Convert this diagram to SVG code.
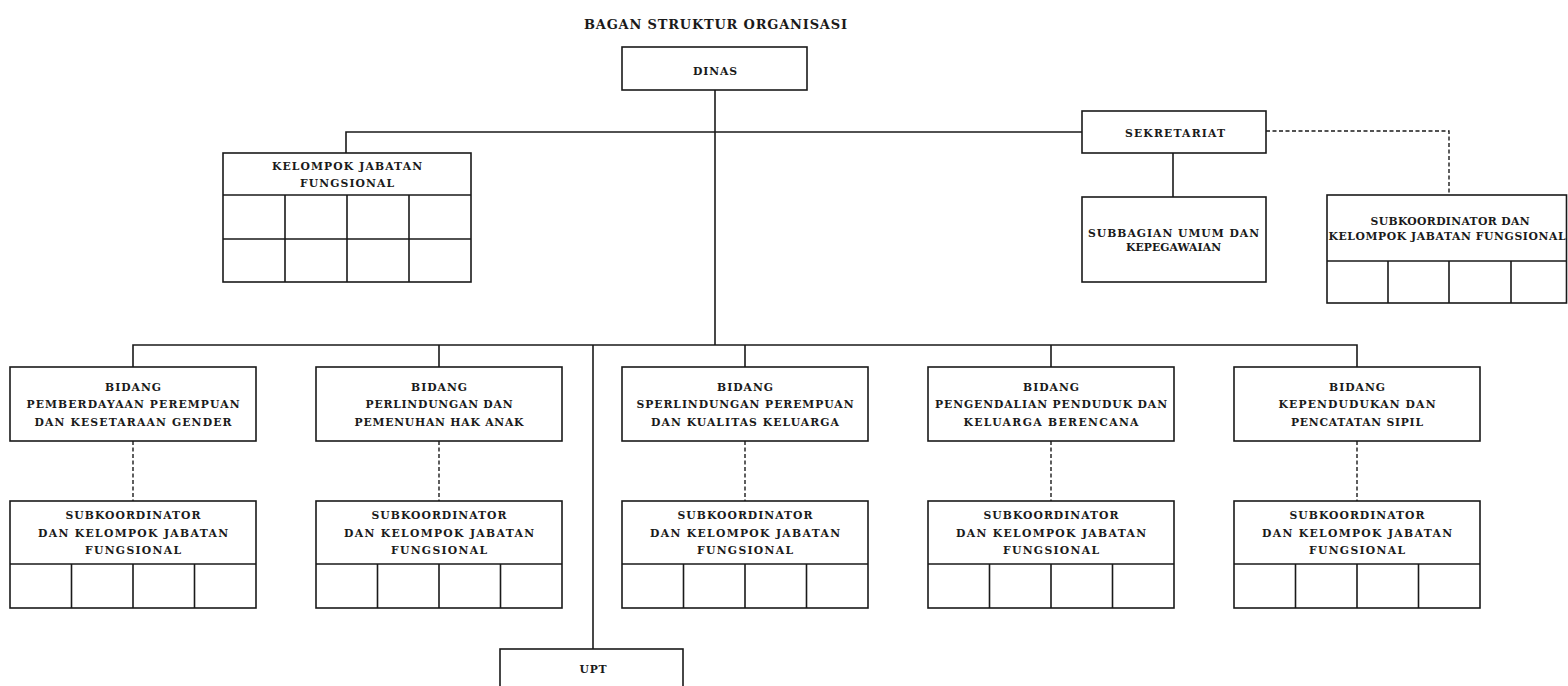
<svg xmlns="http://www.w3.org/2000/svg" width="1568" height="686" viewBox="0 0 1568 686">
<style>
.bx{fill:#fff;stroke:#1a1a1a;stroke-width:1.6}
.ln{fill:none;stroke:#1a1a1a;stroke-width:1.6}
.ds{fill:none;stroke:#1a1a1a;stroke-width:1.4;stroke-dasharray:4 2.5}
.t{font-family:"DejaVu Serif","Liberation Serif",serif;font-weight:bold;font-size:10.8px;fill:#1a1a1a;text-anchor:middle}
.tt{font-family:"DejaVu Serif","Liberation Serif",serif;font-weight:bold;font-size:13px;fill:#1a1a1a;text-anchor:middle}
</style>
<rect width="1568" height="686" fill="#fff"/>
<text class="tt" x="715.5" y="28.5" textLength="263">BAGAN STRUKTUR ORGANISASI</text>

<g id="connectors">
<path class="ln" d="M715 90V345"/>
<path class="ln" d="M346 153V132H1082"/>
<path class="ln" d="M1173 153V197"/>
<path class="ds" d="M1266 131H1449V195"/>
<path class="ln" d="M133 367V345H1357V367"/>
<path class="ln" d="M439 345V367M745 345V367M1051 345V367"/>
<path class="ln" d="M593 345V649"/>
<path class="ds" d="M133 441V501M439 441V501M745 441V501M1051 441V501M1357 441V501"/>
</g>

<g id="dinas">
<rect class="bx" x="622" y="47" width="185" height="43"/>
<text class="t" x="715" y="74.5" textLength="44">DINAS</text>
</g>

<g id="kelompok-jabatan-fungsional">
<rect class="bx" x="223" y="153" width="248" height="129"/>
<path class="ln" d="M223 195H471M223 239H471M285 195V282M347 195V282M409 195V282"/>
<text class="t" x="347" y="169.5" textLength="150">KELOMPOK JABATAN</text>
<text class="t" x="347" y="187.2" textLength="94">FUNGSIONAL</text>
</g>

<g id="sekretariat">
<rect class="bx" x="1082" y="111" width="184" height="42"/>
<text class="t" x="1175" y="136.5" textLength="100">SEKRETARIAT</text>
</g>

<g id="subbagian">
<rect class="bx" x="1082" y="197" width="184" height="85"/>
<text class="t" x="1173.5" y="236.5" textLength="171">SUBBAGIAN UMUM DAN</text>
<text class="t" x="1173.5" y="250.5" textLength="95">KEPEGAWAIAN</text>
</g>

<g id="sekretariat-sub">
<rect class="bx" x="1327" y="195" width="239.5" height="108"/>
<path class="ln" d="M1327 261H1566.5M1388 261V303M1449 261V303M1511 261V303"/>
<text class="t" x="1450" y="224.8" textLength="159">SUBKOORDINATOR DAN</text>
<text class="t" x="1447" y="239.5" textLength="237">KELOMPOK JABATAN FUNGSIONAL</text>
</g>

<g id="bidang-1">
<rect class="bx" x="10" y="367" width="246" height="74"/>
<text class="t" x="133" y="390.5" textLength="56">BIDANG</text>
<text class="t" x="133" y="408.2" textLength="213">PEMBERDAYAAN PEREMPUAN</text>
<text class="t" x="133" y="425.8" textLength="197">DAN KESETARAAN GENDER</text>
</g>
<g id="bidang-2">
<rect class="bx" x="316" y="367" width="246" height="74"/>
<text class="t" x="439" y="390.5" textLength="56">BIDANG</text>
<text class="t" x="439" y="408.2" textLength="147">PERLINDUNGAN DAN</text>
<text class="t" x="439" y="425.8" textLength="169">PEMENUHAN HAK ANAK</text>
</g>
<g id="bidang-3">
<rect class="bx" x="622" y="367" width="246" height="74"/>
<text class="t" x="745" y="390.5" textLength="56">BIDANG</text>
<text class="t" x="745" y="408.2" textLength="217">SPERLINDUNGAN PEREMPUAN</text>
<text class="t" x="745" y="425.8" textLength="188">DAN KUALITAS KELUARGA</text>
</g>
<g id="bidang-4">
<rect class="bx" x="928" y="367" width="246" height="74"/>
<text class="t" x="1051" y="390.5" textLength="56">BIDANG</text>
<text class="t" x="1051" y="408.2" textLength="232">PENGENDALIAN PENDUDUK DAN</text>
<text class="t" x="1051" y="425.8" textLength="175">KELUARGA BERENCANA</text>
</g>
<g id="bidang-5">
<rect class="bx" x="1234" y="367" width="246" height="74"/>
<text class="t" x="1357" y="390.5" textLength="56">BIDANG</text>
<text class="t" x="1357" y="408.2" textLength="157">KEPENDUDUKAN DAN</text>
<text class="t" x="1357" y="425.8" textLength="132">PENCATATAN SIPIL</text>
</g>

<defs>
<g id="subk">
<rect class="bx" x="0" y="0" width="246" height="107"/>
<path class="ln" d="M0 63H246M61.5 63V107M123 63V107M184.5 63V107"/>
<text class="t" x="123" y="17.8" textLength="135">SUBKOORDINATOR</text>
<text class="t" x="123" y="36.2" textLength="190">DAN KELOMPOK JABATAN</text>
<text class="t" x="123" y="53.2" textLength="96">FUNGSIONAL</text>
</g>
</defs>
<g id="sub-1"><use href="#subk" x="10" y="501"/></g>
<g id="sub-2"><use href="#subk" x="316" y="501"/></g>
<g id="sub-3"><use href="#subk" x="622" y="501"/></g>
<g id="sub-4"><use href="#subk" x="928" y="501"/></g>
<g id="sub-5"><use href="#subk" x="1234" y="501"/></g>

<g id="upt">
<rect class="bx" x="500" y="649" width="183" height="60"/>
<text class="t" x="593" y="672.8" textLength="27">UPT</text>
</g>
</svg>
